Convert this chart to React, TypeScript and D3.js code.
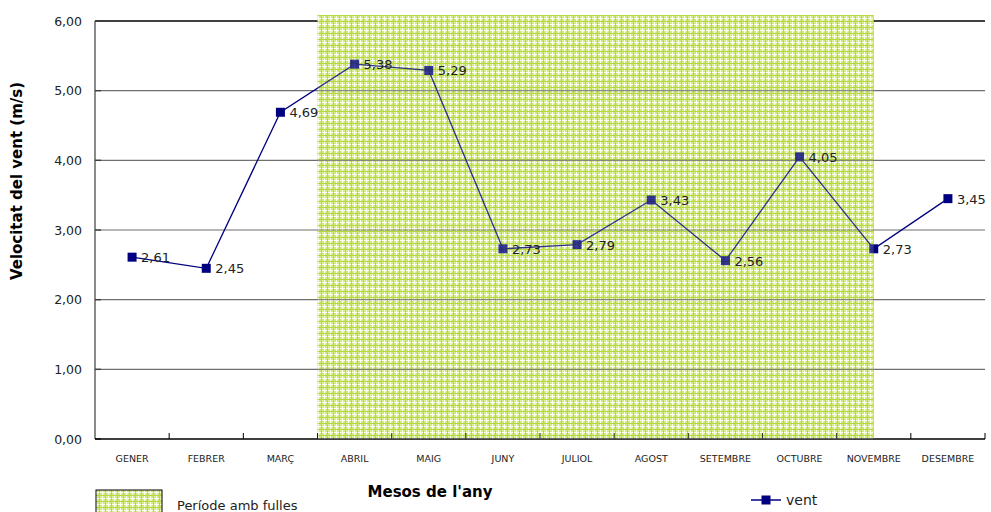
import React from "react";
import * as d3 from "d3";

const months = ["GENER", "FEBRER", "MARÇ", "ABRIL", "MAIG", "JUNY", "JULIOL", "AGOST", "SETEMBRE", "OCTUBRE", "NOVEMBRE", "DESEMBRE"];
const windSpeed = [2.61, 2.45, 4.69, 5.38, 5.29, 2.73, 2.79, 3.43, 2.56, 4.05, 2.73, 3.45];
const yTicks = [0, 1, 2, 3, 4, 5, 6];
const leafStart = "ABRIL";
const leafEnd = "NOVEMBRE";

const W = 991;
const H = 512;
const left = 95;
const right = 985;
const top = 21;
const bottom = 439;
const FONT = "'DejaVu Sans', sans-serif";

const fmt = (v: number) => v.toFixed(2).replace(".", ",");

export default function App() {
  const x = d3.scaleBand<string>().domain(months).range([left, right]).padding(0);
  const y = d3.scaleLinear().domain([0, 6]).range([bottom, top]);
  const cx = (m: string) => (x(m) as number) + x.bandwidth() / 2;

  const line = d3
    .line<number>()
    .x((_, i) => cx(months[i]))
    .y((d) => y(d));

  const leafX0 = x(leafStart) as number;
  const leafX1 = cx(leafEnd);
  const leafTop = 15;

  return (
    <svg width={W} height={H} style={{ position: "absolute", left: 0, top: 0, background: "#fff" }}>
      <defs>
        <pattern id="leaves" width="6" height="6" patternUnits="userSpaceOnUse">
          <rect width="6" height="6" fill="#d2ea7c" />
          <rect x="0" y="0" width="6" height="1" fill="#fbfdf0" />
          <rect x="0" y="0" width="1" height="6" fill="#fbfdf0" />
          <rect x="3" y="0" width="1" height="6" fill="#b6da40" />
          <rect x="0" y="3" width="6" height="1" fill="#b6da40" />
          <rect x="1" y="1" width="1" height="1" fill="#e8f4b4" />
          <rect x="4" y="4" width="1" height="1" fill="#e8f4b4" />
        </pattern>
      </defs>

      <line x1={left} x2={right} y1={top} y2={top} stroke="#000" strokeWidth={1.4} />

      {/* leafy period */}
      <rect x={leafX0} y={leafTop} width={leafX1 - leafX0} height={bottom - leafTop} fill="url(#leaves)" />

      {/* grid lines */}
      {yTicks.filter((t) => t > 0 && t < 6).map((t) => (
        <line key={t} x1={left} x2={right} y1={y(t)} y2={y(t)} stroke="#6f6f6f" strokeWidth={1.2} />
      ))}

      {/* axes */}
      <line x1={left} x2={left} y1={top} y2={bottom} stroke="#595959" strokeWidth={1.4} />
      {yTicks.map((t) => (
        <g key={t}>
          <line x1={left} x2={left + 6} y1={y(t)} y2={y(t)} stroke="#404040" strokeWidth={1.4} />
          <text x={82} y={y(t) + 4.5} textAnchor="end" fontFamily={FONT} fontSize={12.5} fill="#222">
            {fmt(t)}
          </text>
        </g>
      ))}
      <line x1={left} x2={right} y1={bottom} y2={bottom} stroke="#000" strokeWidth={1.4} />
      {months.map((m) => (
        <line key={m} x1={(x(m) as number) + x.bandwidth()} x2={(x(m) as number) + x.bandwidth()} y1={bottom - 6} y2={bottom} stroke="#000" strokeWidth={1} />
      ))}
      {months.map((m) => (
        <text key={m} x={cx(m)} y={462} textAnchor="middle" fontFamily={FONT} fontSize={9.5} fill="#222">
          {m}
        </text>
      ))}

      {/* wind series */}
      <path d={line(windSpeed) ?? ""} fill="none" stroke="#000080" strokeWidth={1.3} />
      {windSpeed.map((v, i) => (
        <rect key={i} x={cx(months[i]) - 4.5} y={y(v) - 4.5} width={9} height={9} fill="#000080" />
      ))}
      {/* the leafy shading lies over the markers it covers */}
      <rect x={leafX0} y={leafTop} width={leafX1 - leafX0} height={bottom - leafTop} fill="url(#leaves)" opacity={0.22} />
      {windSpeed.map((v, i) => (
        <text key={i} x={cx(months[i]) + 9} y={y(v) + 5} fontFamily={FONT} fontSize={13} fill="#222">
          {fmt(v)}
        </text>
      ))}

      {/* titles */}
      <text transform={`translate(22,181) rotate(-90)`} textAnchor="middle" fontFamily={FONT} fontWeight="bold" fontSize={15} fill="#000">
        Velocitat del vent (m/s)
      </text>
      <text x={430} y={497} textAnchor="middle" fontFamily={FONT} fontWeight="bold" fontSize={15} fill="#000">
        Mesos de l'any
      </text>

      {/* legend */}
      <rect x={96} y={490} width={66} height={30} fill="url(#leaves)" stroke="#000" strokeWidth={1} />
      <text x={177} y={510} fontFamily={FONT} fontSize={13} fill="#222">
        Període amb fulles
      </text>
      <line x1={751} x2={781} y1={500} y2={500} stroke="#000080" strokeWidth={1.5} />
      <rect x={761.5} y={495.5} width={9} height={9} fill="#000080" />
      <text x={786} y={505} fontFamily={FONT} fontSize={14} fill="#222">
        vent
      </text>
    </svg>
  );
}
